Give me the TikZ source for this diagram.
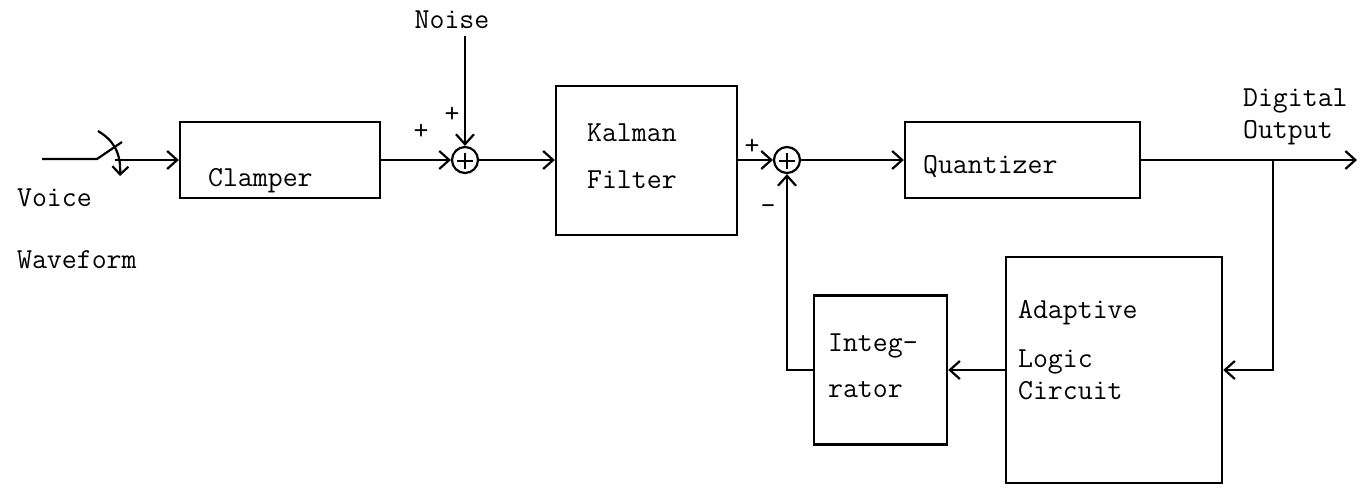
\documentclass[tikz,border=0pt]{standalone}
\usepackage{tikz}
\usetikzlibrary{arrows.meta, positioning, calc}

\begin{document}
\begin{tikzpicture}[
        x=0.5pt, y=-0.5pt,
        line width=1.1pt,
        blockbox/.style={draw, line width=1.2pt, inner sep=0pt},
        sumcircle/.style={draw, circle, minimum size=13pt, inner sep=0pt,
            path picture={\draw[line width=0.8pt]
                ([xshift=-4pt,yshift=-0.5pt]path picture bounding box.center) -- ([xshift=4pt,yshift=-0.5pt]path picture bounding box.center)
                ([yshift=-4.5pt]path picture bounding box.center) -- ([yshift=3.5pt]path picture bounding box.center);}},
        arrow/.style={-{Straight Barb[length=5pt, width=9pt, line width=1.1pt]}},
        labeltext/.style={font=\fontsize{14.5}{16}\selectfont\ttfamily, inner sep=0pt, align=left},
        signtext/.style={font=\fontsize{14.5}{16}\selectfont\ttfamily, inner sep=0pt},
    ]
    \useasboundingbox (0,0) rectangle (1360,488);

        % Blocks
        \node[blockbox, minimum width=100pt, minimum height=38pt] (clamper) at (280,160) {};
        \node[blockbox, minimum width=90.5pt, minimum height=74.5pt] (kalman) at (646.5,160.5) {};
        \node[blockbox, minimum width=117.5pt, minimum height=38pt] (quant) at (1022.5,160) {};
        \node[blockbox, minimum width=66.5pt, minimum height=74.5pt] (integ) at (880.5,370) {};
        \node[blockbox, minimum width=108pt, minimum height=113pt] (adapt) at (1114,370) {};

        % Summing points
        \node[sumcircle] (sum1) at (465,160) {};
        \node[sumcircle] (sum2) at (787,160) {};

        % Block texts
        \node[labeltext, anchor=west] (clampertext) at (207,181) {Clamper};
        \node[labeltext, anchor=west, font=\fontsize{14.5}{23.5}\selectfont\ttfamily] (kalmantext) at (586,156) {Kalman\\Filter};
        \node[labeltext, anchor=west] (quanttext) at (922,166) {Quantizer};
        \node[labeltext, anchor=west, font=\fontsize{14.5}{23}\selectfont\ttfamily] (integtext) at (827,366) {Integ-\\rator};
        \node[labeltext, anchor=west] (adapttext) at (1017,350) {Adaptive\\[8.5pt]Logic\\Circuit};

        % Outer texts
        \node[labeltext, anchor=west] (voice) at (16,198) {Voice};
        \node[labeltext, anchor=west] (waveform) at (16,260) {Waveform};
        \node[labeltext] (noise) at (452,20) {Noise};
        \node[labeltext, anchor=west] (digout) at (1242,117) {Digital\\Output};

        % Signs
        \node[signtext] (plusa) at (421,132) {+};
        \node[signtext] (plusb) at (452,115) {+};
        \node[signtext] (plusc) at (752,147) {+};
        \node[signtext] (minusa) at (768,210) {-};

        % Input switch
        \coordinate (vin) at (42,159);
        \coordinate (swpivot) at (97,159);
        \coordinate (swtip) at (122,142);
        \coordinate (swout) at (115,160);
        \coordinate (arcstart) at (98,131);
        \coordinate (arcend) at (120,176);
        \draw (vin) -- (swpivot) -- (swtip);
        \draw[-{Straight Barb[length=4pt, width=8pt, line width=1.1pt]}] (arcstart) .. controls (113,140) and (121,152) .. (arcend);

        % Forward path
        \draw[arrow] (swout) -- (clamper.west);
        \draw[arrow] (clamper.east) -- (sum1.west);
        \draw[arrow] ([yshift=-3pt]noise.south -| sum1.north) -- (sum1.north);
        \draw[arrow] (sum1.east) -- (kalman.west |- sum1.east);
        \draw[arrow] (kalman.east |- sum2.west) -- (sum2.west);
        \draw[arrow] (sum2.east) -- (quant.west);
        \coordinate (dout) at (1357,160);
        \draw[arrow] (quant.east) -- (dout);

        % Feedback path
        \coordinate (tap) at (1273,160);
        \draw[arrow] (tap) |- (adapt.east);
        \draw[arrow] (adapt.west) -- (integ.east);
        \draw[arrow] (integ.west) -| (sum2.south);

    \end{tikzpicture}
\end{document}
